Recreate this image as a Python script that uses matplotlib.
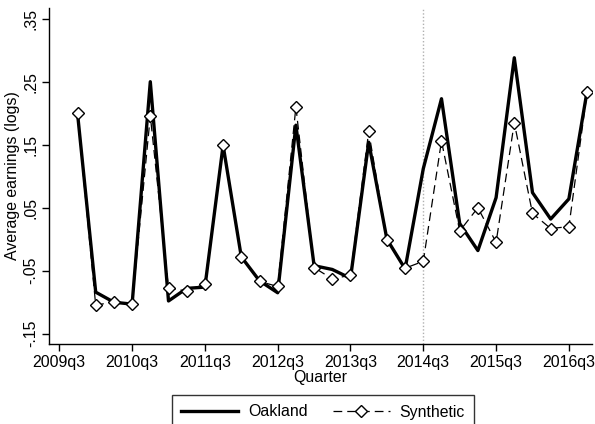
import numpy as np
import matplotlib
matplotlib.use("Agg")
import matplotlib.pyplot as plt

plt.rcParams['font.family'] = ['Liberation Sans', 'DejaVu Sans']

quarters = ["2009q4", "2010q1", "2010q2", "2010q3", "2010q4", "2011q1", "2011q2", "2011q3",
            "2011q4", "2012q1", "2012q2", "2012q3", "2012q4", "2013q1", "2013q2", "2013q3",
            "2013q4", "2014q1", "2014q2", "2014q3", "2014q4", "2015q1", "2015q2", "2015q3",
            "2015q4", "2016q1", "2016q2", "2016q3", "2016q4"]
oakland = [0.200, -0.084, -0.100, -0.103, 0.250, -0.098, -0.078, -0.076, 0.149, -0.028,
           -0.066, -0.085, 0.181, -0.042, -0.048, -0.062, 0.154, 0.000, -0.047, 0.112,
           0.223, 0.025, -0.018, 0.066, 0.288, 0.074, 0.032, 0.064, 0.235]
synthetic = [0.200, -0.105, -0.099, -0.103, 0.196, -0.078, -0.082, -0.071, 0.149, -0.028,
             -0.067, -0.075, 0.210, -0.045, -0.063, -0.057, 0.171, -0.001, -0.046, -0.035,
             0.156, 0.013, 0.050, -0.005, 0.185, 0.041, 0.017, 0.020, 0.233]
xtick_labels = ["2009q3", "2010q3", "2011q3", "2012q3", "2013q3", "2014q3", "2015q3", "2016q3"]
ytick_values = [-0.15, -0.05, 0.05, 0.15, 0.25, 0.35]
ytick_labels = ["-.15", "-.05", ".05", ".15", ".25", ".35"]
treatment_quarter = "2014q3"


def qpos(label):
    y, q = label.split("q")
    return (int(y) - 2009) * 4 + (int(q) - 3)


x = [qpos(s) for s in quarters]

fig = plt.figure(figsize=(5.95, 4.24), dpi=100)
ax = fig.add_axes([49.3 / 595, 1 - 343.5 / 424, (592 - 49.3) / 595, (343.5 - 8.3) / 424])

ax.axvline(qpos(treatment_quarter), color="#b0b0b0", linestyle=(0, (1, 1.5)), linewidth=1.0, zorder=1)
ax.plot(x, oakland, color="black", linewidth=2.4, label="Oakland", zorder=3)
ax.plot(x, synthetic, color="black", linewidth=0.9, linestyle=(0, (7, 4)), marker="D",
        markersize=6.0, markerfacecolor="white", markeredgecolor="black", markeredgewidth=1.0,
        label="Synthetic", zorder=4)

ax.set_xlim(-0.55, 29.27)
ax.set_ylim(-0.1655, 0.3665)
ax.set_xticks([qpos(s) for s in xtick_labels])
ax.set_xticklabels(xtick_labels)
ax.set_yticks(ytick_values)
ax.set_yticklabels(ytick_labels, rotation=90, va="center")

for s in ["top", "right"]:
    ax.spines[s].set_visible(False)
for s in ["left", "bottom"]:
    ax.spines[s].set_linewidth(1.0)

ax.tick_params(axis="both", direction="out", length=5, width=1.0, labelsize=11.4, pad=3)
ax.set_xlabel("Quarter", fontsize=11.4, labelpad=0)
ax.set_ylabel("Average earnings (logs)", fontsize=11.4, labelpad=2)

leg = fig.legend(loc="upper center", bbox_to_anchor=(323 / 595, 1 - 395 / 424), ncol=2,
                 fontsize=11.4, frameon=True, fancybox=False, edgecolor="black",
                 handlelength=3.6, handletextpad=0.6, columnspacing=1.6, numpoints=1,
                 borderpad=0.6, borderaxespad=0)
leg.get_frame().set_linewidth(1.0)

fig.savefig("out.png", dpi=100, facecolor="white")
